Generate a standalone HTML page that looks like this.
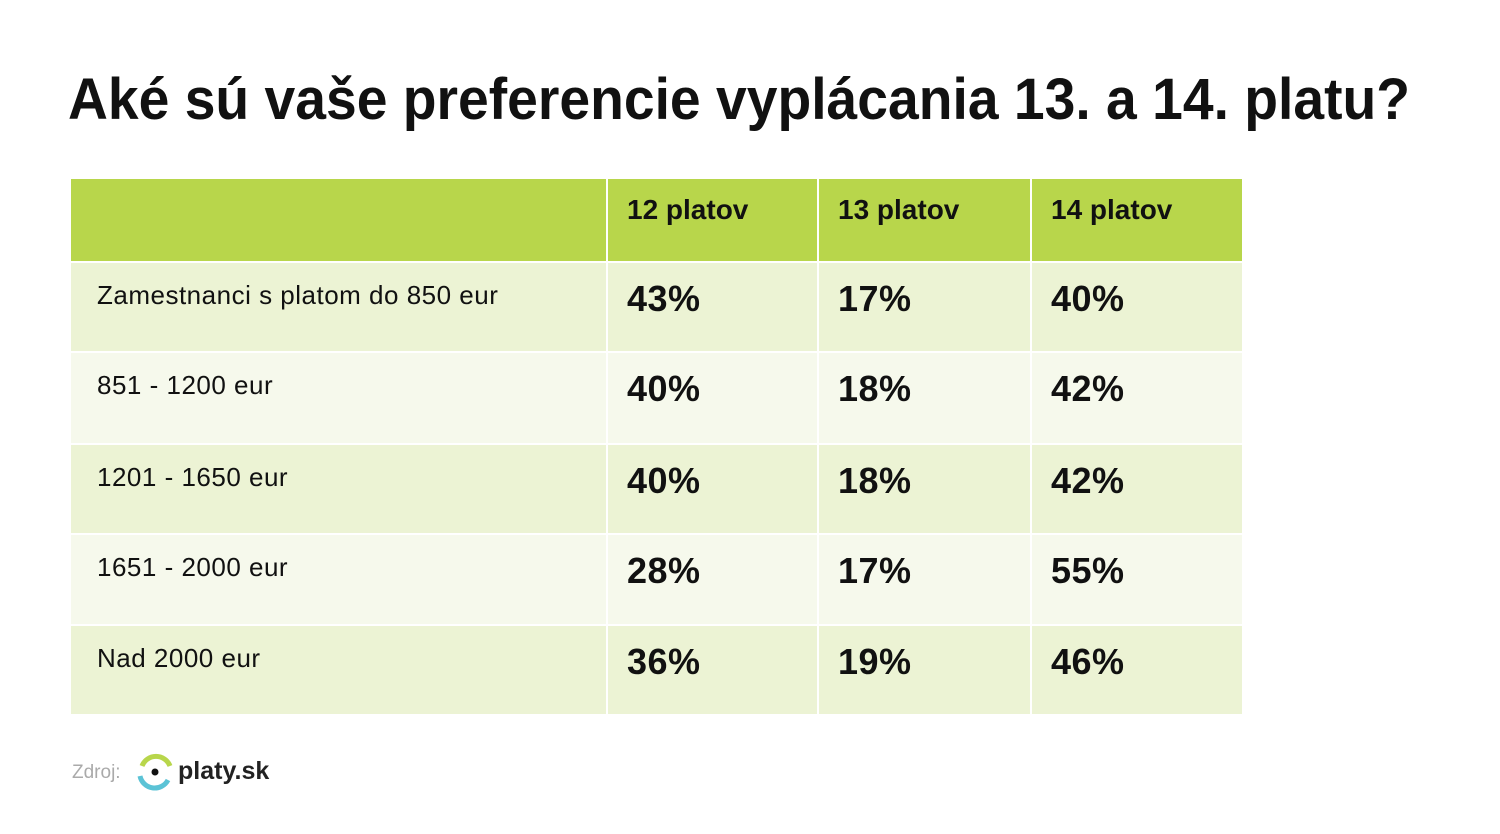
<!DOCTYPE html>
<html><head><meta charset="utf-8"><style>
body{margin:0;width:1500px;height:834px;background:#fff;font-family:"Liberation Sans",sans-serif;position:relative;overflow:hidden}
.c{position:absolute}
.h{background:#b8d64b}
.o{background:#ecf3d4}
.e{background:#f6f9ec}
.t{position:absolute;white-space:nowrap;color:#111}
.hd{font-weight:bold;font-size:28px}
.lb{font-size:26px;letter-spacing:0.5px}
.v{font-weight:bold;font-size:36px;letter-spacing:0.5px}
</style></head><body>
<svg class="c" style="left:0;top:0" width="1500" height="160"><text x="68" y="119" font-family="Liberation Sans" font-weight="bold" font-size="58" textLength="1342" lengthAdjust="spacingAndGlyphs" fill="#111">Aké sú vaše preferencie vyplácania 13. a 14. platu?</text></svg>
<div id="tb"></div>
<script>
var cols=[[71,535],[608,209],[819,211],[1032,210]];
var rows=[[179,82],[263,88],[353,90],[445,88],[535,89],[626,88]];
var data=[["","12 platov","13 platov","14 platov"],
["Zamestnanci s platom do 850 eur","43%","17%","40%"],
["851 - 1200 eur","40%","18%","42%"],
["1201 - 1650 eur","40%","18%","42%"],
["1651 - 2000 eur","28%","17%","55%"],
["Nad 2000 eur","36%","19%","46%"]];
var h="";
rows.forEach(function(r,i){cols.forEach(function(c,j){
var cl=i==0?"h":(i%2?"o":"e");
h+='<div class="c '+cl+'" style="left:'+c[0]+'px;top:'+r[0]+'px;width:'+c[1]+'px;height:'+r[1]+'px"></div>';
var t=data[i][j];if(!t)return;
var k=i==0?"hd":(j==0?"lb":"v");
var x=j==0?97:c[0]+19;
var top=i==0?r[0]+15:(j==0?r[0]+17:r[0]+15);
h+='<div class="t '+k+'" style="left:'+x+'px;top:'+top+'px">'+t+'</div>';
});});
document.getElementById("tb").innerHTML=h;
</script>
<div class="t" style="left:72px;top:762px;font-size:19px;color:#aaa">Zdroj:</div>
<svg class="c" style="left:136px;top:752px" width="40" height="40"><path d="M6 14 A15 15 0 0 1 34 14" stroke="#b8d64b" stroke-width="5" fill="none"/><path d="M4 24 A15 15 0 0 0 32 28" stroke="#5bc3d6" stroke-width="5" fill="none"/><circle cx="19" cy="20" r="3.5" fill="#111"/></svg>
<div class="t" style="left:178px;top:757px;font-size:25px;font-weight:bold;color:#222">platy.sk</div>
</body></html>
